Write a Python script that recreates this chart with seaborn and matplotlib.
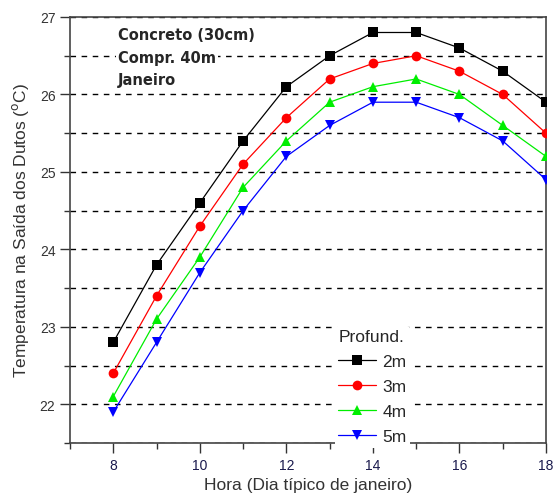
import matplotlib
matplotlib.use("Agg")
import matplotlib.pyplot as plt
import seaborn as sns
import pandas as pd
from matplotlib.ticker import MultipleLocator

hours = [8, 9, 10, 11, 12, 13, 14, 15, 16, 17, 18]
t_2m = [22.8, 23.8, 24.6, 25.4, 26.1, 26.5, 26.8, 26.8, 26.6, 26.3, 25.9]
t_3m = [22.4, 23.4, 24.3, 25.1, 25.7, 26.2, 26.4, 26.5, 26.3, 26.0, 25.5]
t_4m = [22.1, 23.1, 23.9, 24.8, 25.4, 25.9, 26.1, 26.2, 26.0, 25.6, 25.2]
t_5m = [21.9, 22.8, 23.7, 24.5, 25.2, 25.6, 25.9, 25.9, 25.7, 25.4, 24.9]
series_names = ["2m", "3m", "4m", "5m"]

df = pd.concat([
    pd.DataFrame({"Hora": hours, "Temp": v, "Profund.": n})
    for n, v in zip(series_names, [t_2m, t_3m, t_4m, t_5m])
])

sns.set_style("ticks")
plt.rcParams["font.family"] = ["Liberation Sans", "DejaVu Sans"]

fig = plt.figure(figsize=(5.55, 5.02), dpi=100)
ax = fig.add_axes([70/555, 58/502, 476/555, 426/502])

palette = {"2m": "black", "3m": "red", "4m": "#00ee00", "5m": "blue"}
markers = {"2m": "s", "3m": "o", "4m": "^", "5m": "v"}
sns.lineplot(data=df, x="Hora", y="Temp", hue="Profund.", style="Profund.",
             palette=palette, markers=markers, dashes=False, ax=ax,
             linewidth=0.9, markersize=7, markeredgewidth=0, zorder=3)

ax.set_xlim(7, 18)
ax.set_ylim(21.5, 27)
ax.xaxis.set_major_locator(MultipleLocator(2))
ax.xaxis.set_minor_locator(MultipleLocator(1))
ax.yaxis.set_major_locator(MultipleLocator(1))
ax.yaxis.set_minor_locator(MultipleLocator(0.5))
ax.tick_params(which="major", direction="out", length=7, width=1, labelsize=10, colors="#333333")
ax.tick_params(which="minor", direction="out", length=4, width=1, colors="#333333")
ax.tick_params(axis="x", labelcolor="#1a1a4d")
ax.grid(which="both", axis="y", linestyle=(0, (4, 4)), color="black", linewidth=1, zorder=1)
for s in ax.spines.values():
    s.set_color("#444444")
    s.set_linewidth(1.2)

ax.set_xlabel("Hora (Dia típico de janeiro)", fontsize=12.5, color="#333333", labelpad=4)
ax.set_ylabel("Temperatura na Saída dos Dutos ($^{\\mathrm{o}}$C)", fontsize=12.5, color="#333333", labelpad=6)

for i, txt in enumerate(["Concreto (30cm)", "Compr. 40m", "Janeiro"]):
    ax.text((118 - 70)/476, 1 - (36 + 22*i - 18)/426, txt, transform=ax.transAxes,
            fontsize=10.5, fontweight="bold", family="DejaVu Sans",
            va="center", ha="left", zorder=4,
            bbox=dict(facecolor="white", edgecolor="none", pad=1.5))

leg = ax.legend(title="Profund.", loc="upper left", bbox_to_anchor=((326-70)/476, 1 - (318-18)/426),
                frameon=True, fontsize=12.5, title_fontsize=12.5, handlelength=2.2,
                borderpad=0.2, labelspacing=0.57, handletextpad=0.35)
leg.get_frame().set_edgecolor("none")
leg.get_frame().set_facecolor("white")
leg.get_frame().set_alpha(1)
leg._legend_box.align = "left"
leg.set_zorder(5)

fig.savefig("out.png", dpi=100)
